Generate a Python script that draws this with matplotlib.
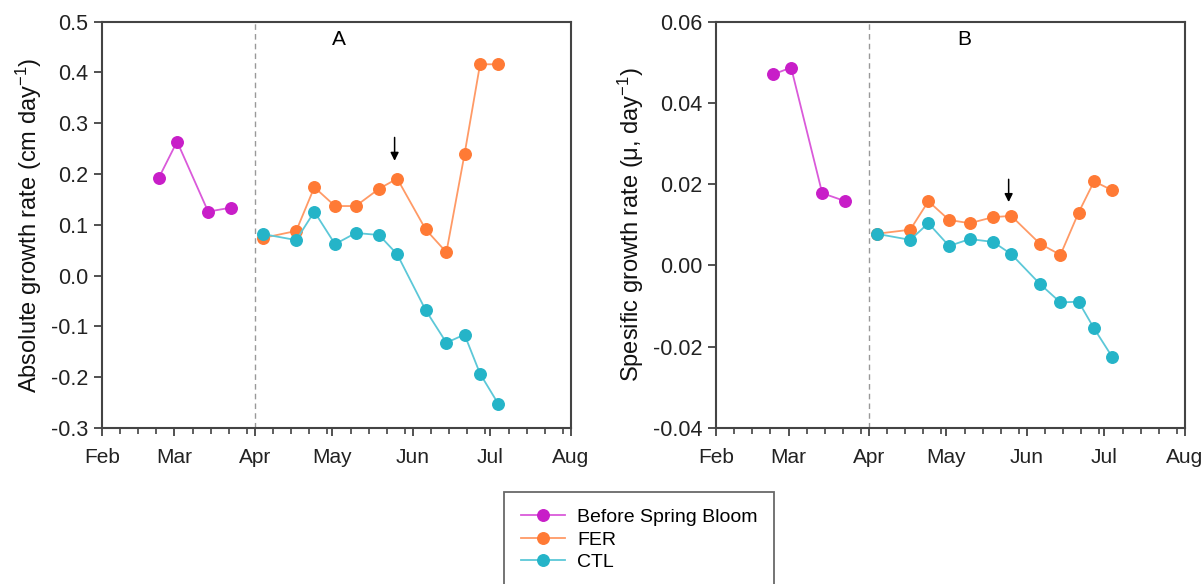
import matplotlib
matplotlib.use('Agg')
import matplotlib.pyplot as plt
import matplotlib.dates as mdates
import numpy as np
import pandas as pd

plt.rcParams['font.family'] = ['Liberation Sans', 'DejaVu Sans']
plt.rcParams['mathtext.default'] = 'regular'

# sampling dates
pre_dates = pd.to_datetime(['2019-02-23', '2019-03-02', '2019-03-14', '2019-03-23'])
exp_dates = pd.to_datetime(['2019-04-04', '2019-04-17', '2019-04-24', '2019-05-02',
                            '2019-05-10', '2019-05-19', '2019-05-26', '2019-06-06',
                            '2019-06-14', '2019-06-21', '2019-06-27', '2019-07-04'])

# panel A - absolute growth rate (cm day-1)
abs_pre = [0.193, 0.264, 0.126, 0.134]
abs_fer = [0.074, 0.088, 0.174, 0.137, 0.137, 0.171, 0.191, 0.091, 0.046, 0.239, 0.416, 0.416]
abs_ctl = [0.082, 0.070, 0.126, 0.062, 0.084, 0.080, 0.042, -0.068, -0.132, -0.116, -0.193, -0.252]

# panel B - specific growth rate (day-1)
spe_pre = [0.0470, 0.0487, 0.0178, 0.0158]
spe_fer = [0.0078, 0.0088, 0.0158, 0.0112, 0.0104, 0.0119, 0.0122, 0.0054, 0.0026, 0.0130, 0.0207, 0.0185]
spe_ctl = [0.0078, 0.0063, 0.0104, 0.0048, 0.0065, 0.0058, 0.0028, -0.0045, -0.0091, -0.0089, -0.0155, -0.0225]

labels = ['Before Spring Bloom', 'FER', 'CTL']
mk_colors = ['#C81EC8', '#FF7A35', '#25B4C8']
ln_colors = ['#DA5ADA', '#FF9A66', '#5CC8D8']

bloom_end = pd.Timestamp('2019-04-01')
arrow_date = pd.Timestamp('2019-05-25')

fig = plt.figure(figsize=(12.04, 5.84), dpi=100)
axA = fig.add_axes([0.0847, 0.267, 0.3893, 0.696])
axB = fig.add_axes([0.5947, 0.267, 0.3893, 0.696])


def draw_panel(ax, pre, fer, ctl, ylim, yticks, fmt, ylabel, tag, tagx, arrow_y):
    handles = []
    for d, v, i in [(pre_dates, pre, 0), (exp_dates, fer, 1), (exp_dates, ctl, 2)]:
        h, = ax.plot(d, v, '-', color=ln_colors[i], lw=1.3, marker='o', ms=8.3,
                     mfc=mk_colors[i], mec=mk_colors[i], label=labels[i])
        handles.append(h)
    ax.axvline(bloom_end, color='#999999', lw=1, ls=(0, (4, 3)), zorder=0)
    ax.annotate('', xy=(arrow_date, arrow_y[1]), xytext=(arrow_date, arrow_y[0]),
                arrowprops=dict(arrowstyle='-|>', color='black', lw=1.1,
                                mutation_scale=12, shrinkA=0, shrinkB=0))
    ax.text(tagx, 0.955, tag, transform=ax.transAxes, ha='center', va='center', fontsize=15)
    ax.set_xlim(pd.Timestamp('2019-02-01'), pd.Timestamp('2019-08-01'))
    ax.set_ylim(*ylim)
    ax.set_yticks(yticks)
    ax.set_yticklabels([fmt.format(t) for t in yticks])
    ax.xaxis.set_major_locator(mdates.MonthLocator())
    ax.xaxis.set_major_formatter(mdates.DateFormatter('%b'))
    ax.xaxis.set_minor_locator(mdates.MonthLocator(bymonthday=[8, 15, 22, 29]))
    ax.tick_params(axis='both', which='major', direction='out', length=6, width=1.2,
                   colors='#333333', labelcolor='#222222')
    ax.tick_params(axis='y', which='major', labelsize=15.5, pad=4)
    ax.tick_params(axis='x', which='major', labelsize=15, pad=8)
    ax.tick_params(axis='x', which='minor', direction='out', length=4, width=1.1, colors='#333333')
    for s in ax.spines.values():
        s.set_linewidth(1.5)
        s.set_color('#444444')
    ax.set_ylabel(ylabel, fontsize=17, color='#111111', labelpad=5)
    return handles


handles = draw_panel(axA, abs_pre, abs_fer, abs_ctl, (-0.3, 0.5),
                     np.round(np.arange(-0.3, 0.51, 0.1), 1), '{:.1f}',
                     'Absolute growth rate (cm day$^{-1}$)', 'A', 0.505, (0.272, 0.226))
draw_panel(axB, spe_pre, spe_fer, spe_ctl, (-0.04, 0.06),
           np.round(np.arange(-0.04, 0.061, 0.02), 2), '{:.2f}',
           'Spesific growth rate (μ, day$^{-1}$)', 'B', 0.53, (0.0212, 0.0156))

leg = fig.legend(handles=handles, loc='upper left', bbox_to_anchor=(504 / 1204, 1 - 492 / 584),
                 fontsize=14, frameon=True, fancybox=False, edgecolor='#444444',
                 handlelength=2.3, handletextpad=0.6, labelspacing=0.25, borderpad=0.85,
                 borderaxespad=0)
leg.get_frame().set_linewidth(1.3)

fig.savefig('out.png', dpi=100)
